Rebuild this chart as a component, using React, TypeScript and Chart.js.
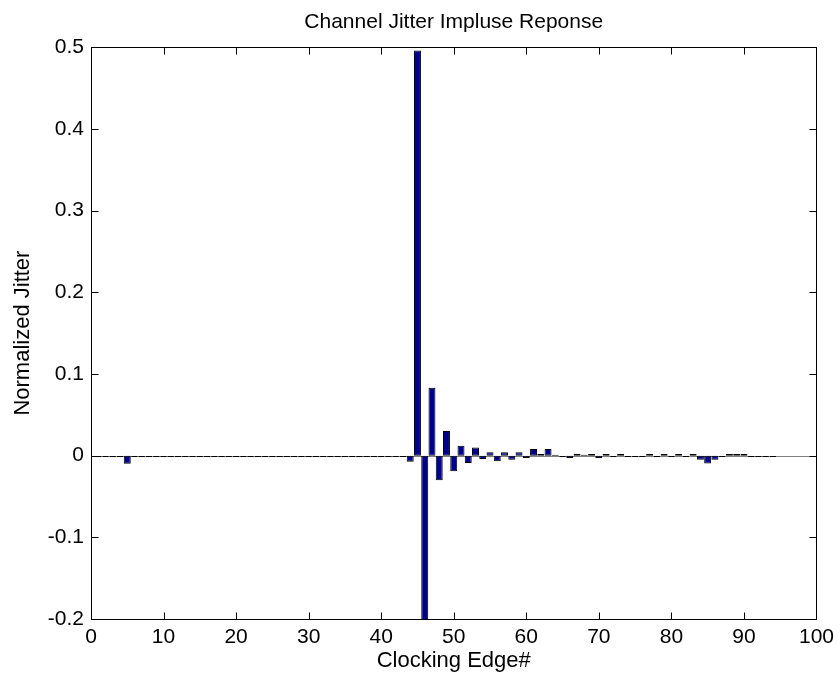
import React, { useEffect, useRef } from "react";
import { Chart, registerables } from "chart.js";

Chart.register(...registerables);

const TITLE = "Channel Jitter Impluse Reponse";
const X_LABEL = "Clocking Edge#";
const Y_LABEL = "Normalized Jitter";

// Clocking edges 1..94
const EDGES: number[] = Array.from({ length: 94 }, (_, i) => i + 1);

// Normalized jitter for each edge
const JITTER: number[] = [
  // 1-10
  0, 0, 0, 0, -0.01, 0, 0, 0, 0, 0,
  // 11-20
  0, 0, 0, 0, 0, 0, 0, 0, 0, 0,
  // 21-30
  0, 0, 0, 0, 0, 0, 0, 0, 0, 0,
  // 31-40
  0, 0, 0, 0, 0, 0, 0, 0, 0, 0,
  // 41-50
  0, 0, 0, -0.0075, 0.496, -0.25, 0.083, -0.03, 0.03, -0.019,
  // 51-60
  0.012, -0.009, 0.01, -0.004, 0.004, -0.007, 0.004, -0.005, 0.004, -0.003,
  // 61-70
  0.008, 0.002, 0.008, 0.001, 0, -0.003, 0.002, 0.001, 0.002, -0.003,
  // 71-80
  0.002, 0, 0.002, 0, 0, 0, 0.002, 0, 0.002, 0,
  // 81-90
  0.002, 0, 0.002, -0.005, -0.0095, -0.005, 0, 0.002, 0.002, 0.002,
  // 91-94
  0, 0, 0, 0,
];

const X_MIN = 0;
const X_MAX = 100;
const X_STEP = 10;
const Y_MIN = -0.2;
const Y_MAX = 0.5;
const Y_STEP = 0.1;

const FONT = "'Liberation Sans', Arial, Helvetica, sans-serif";
const TICK_LEN = 7;

const framePlugin = {
  id: "matlabFrame",
  beforeDatasetsDraw(chart: any) {
    const { ctx, chartArea: a, scales } = chart;
    const y0 = Math.round(scales.y.getPixelForValue(0)) + 0.5;
    ctx.save();
    ctx.strokeStyle = "#7f7f7f";
    ctx.lineWidth = 1;
    ctx.beginPath();
    ctx.moveTo(a.left, y0);
    ctx.lineTo(a.right, y0);
    ctx.stroke();
    ctx.restore();
  },
  afterDatasetsDraw(chart: any) {
    const { ctx, chartArea: a, scales } = chart;
    const y0 = Math.round(scales.y.getPixelForValue(0)) + 0.5;
    ctx.save();
    // zero-height bars still show their edge
    const meta = chart.getDatasetMeta(0);
    ctx.strokeStyle = "#000000";
    ctx.lineWidth = 1;
    meta.data.forEach((el: any, i: number) => {
      if (JITTER[i] === 0) {
        const p = el.getProps(["x", "width"], true);
        ctx.beginPath();
        ctx.moveTo(p.x - p.width / 2 + 0.5, y0);
        ctx.lineTo(p.x + p.width / 2 - 0.5, y0);
        ctx.stroke();
      }
    });
    // box
    const l = Math.round(a.left) + 0.5;
    const r = Math.round(a.right) + 0.5;
    const t = Math.round(a.top) + 0.5;
    const b = Math.round(a.bottom) + 0.5;
    ctx.strokeRect(l, t, r - l, b - t);
    // inward ticks
    ctx.beginPath();
    scales.x.ticks.forEach((tk: any) => {
      const x = Math.round(scales.x.getPixelForValue(tk.value)) + 0.5;
      ctx.moveTo(x, b);
      ctx.lineTo(x, b - TICK_LEN);
      ctx.moveTo(x, t);
      ctx.lineTo(x, t + TICK_LEN);
    });
    scales.y.ticks.forEach((tk: any) => {
      const y = Math.round(scales.y.getPixelForValue(tk.value)) + 0.5;
      ctx.moveTo(l, y);
      ctx.lineTo(l + TICK_LEN, y);
      ctx.moveTo(r, y);
      ctx.lineTo(r - TICK_LEN, y);
    });
    ctx.stroke();
    ctx.restore();
  },
};

export default function App() {
  const ref = useRef<HTMLCanvasElement | null>(null);

  useEffect(() => {
    if (!ref.current) return;
    const chart = new Chart(ref.current, {
      type: "bar",
      data: {
        datasets: [
          {
            data: EDGES.map((x, i) => ({ x, y: JITTER[i] })),
            backgroundColor: "#00008f",
            borderColor: "#000000",
            borderWidth: 1,
            borderSkipped: false,
            barPercentage: 0.96,
            categoryPercentage: 1,
          },
        ],
      },
      options: {
        responsive: false,
        animation: false,
        devicePixelRatio: 1,
        layout: { padding: { top: 0, right: 23, bottom: 0, left: 0 } },
        plugins: {
          legend: { display: false },
          tooltip: { enabled: false },
          title: {
            display: true,
            fullSize: false,
            text: TITLE,
            color: "#000000",
            font: { family: FONT, size: 21, weight: "normal" },
            padding: { top: 10, bottom: 12 },
          },
        },
        scales: {
          x: {
            type: "linear",
            min: X_MIN,
            max: X_MAX,
            offset: false,
            grid: { display: false, drawTicks: false, offset: false },
            border: { display: false },
            ticks: {
              stepSize: X_STEP,
              color: "#000000",
              padding: 6,
              maxRotation: 0,
              font: { family: FONT, size: 21 },
            },
            title: {
              display: true,
              text: X_LABEL,
              color: "#000000",
              font: { family: FONT, size: 22 },
              padding: 8,
            },
            afterFit: (s: any) => {
              s.height = 63;
            },
          },
          y: {
            min: Y_MIN,
            max: Y_MAX,
            grid: { display: false, drawTicks: false },
            border: { display: false },
            ticks: {
              stepSize: Y_STEP,
              color: "#000000",
              padding: 7,
              font: { family: FONT, size: 21 },
              callback: (v: any) =>
                Math.abs(v) < 1e-9 ? "0" : Number(v).toFixed(1),
            },
            title: {
              display: true,
              text: Y_LABEL,
              color: "#000000",
              font: { family: FONT, size: 22 },
              padding: 10,
            },
            afterFit: (s: any) => {
              s.width = 91;
            },
          },
        },
      },
      plugins: [framePlugin],
    });
    return () => chart.destroy();
  }, []);

  return (
    <div style={{ position: "absolute", left: 0, top: 0, width: 840, height: 682, background: "#ffffff" }}>
      <canvas ref={ref} width={840} height={682} style={{ display: "block" }} />
    </div>
  );
}
